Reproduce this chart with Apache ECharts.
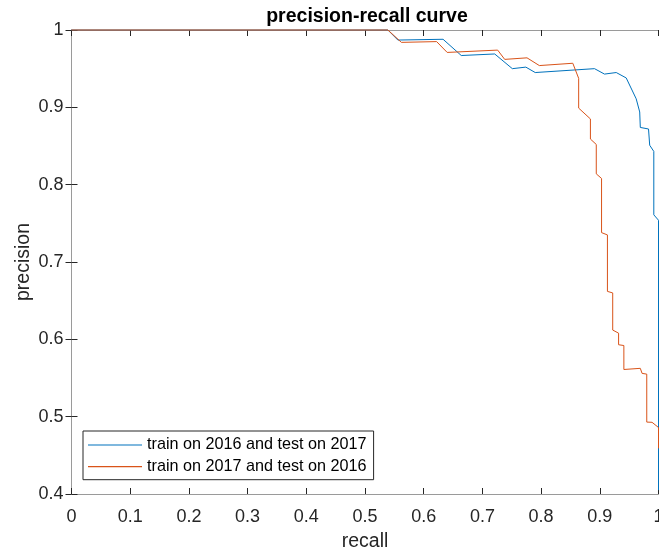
<!DOCTYPE html>
<html>
<head>
<meta charset="utf-8">
<script src="https://cdn.jsdelivr.net/npm/echarts@6/dist/echarts.min.js"></script>
<style>
html,body{margin:0;padding:0;background:#fff;}
#c{width:659px;height:554px;}
</style>
</head>
<body>
<div id="c"></div>
<script>
const titleText = 'precision-recall curve';
const xName = 'recall';
const yName = 'precision';
const seriesNames = ['train on 2016 and test on 2017', 'train on 2017 and test on 2016'];

const recall2016 = [0, 0.539, 0.556, 0.633, 0.664, 0.721, 0.751, 0.774, 0.790, 0.891, 0.908, 0.928, 0.945, 0.962, 0.968, 0.969, 0.983, 0.985, 0.992, 0.992, 1.0, 1.0];
const precision2016 = [1, 1, 0.987, 0.988, 0.967, 0.969, 0.950, 0.952, 0.945, 0.950, 0.943, 0.945, 0.938, 0.911, 0.894, 0.874, 0.872, 0.851, 0.843, 0.761, 0.754, 0.405];

const recall2017 = [0, 0.539, 0.562, 0.622, 0.640, 0.726, 0.738, 0.776, 0.797, 0.854, 0.864, 0.864, 0.884, 0.884, 0.894, 0.894, 0.903, 0.903, 0.913, 0.913, 0.922, 0.922, 0.932, 0.932, 0.941, 0.941, 0.969, 0.972, 0.980, 0.980, 0.989, 1.0, 1.0];
const precision2017 = [1, 1, 0.984, 0.985, 0.971, 0.974, 0.962, 0.964, 0.954, 0.957, 0.9375, 0.899, 0.885, 0.859, 0.852, 0.814, 0.808, 0.738, 0.735, 0.662, 0.660, 0.612, 0.608, 0.593, 0.592, 0.561, 0.5625, 0.556, 0.555, 0.493, 0.4927, 0.486, 0.459];

const xMin = 0, xMax = 1, xStep = 0.1;
const yMin = 0.4, yMax = 1, yStep = 0.1;

function zip(a, b) { return a.map((v, i) => [v, b[i]]); }
function fmt(v) { return String(Math.round(v * 10) / 10); }

const axisColor = '#262626';
const lineGray = '#9a9a9a';
const fontFam = '"Liberation Sans", Arial, Helvetica, sans-serif';

const chart = echarts.init(document.getElementById('c'), null, {renderer: 'canvas'});
const baseX = {
  type: 'value', min: xMin, max: xMax, interval: xStep,
  axisLine: {show: true, lineStyle: {color: lineGray, width: 1}},
  axisTick: {show: true, inside: true, length: 6, lineStyle: {color: axisColor}},
  splitLine: {show: false}
};
const baseY = {
  type: 'value', min: yMin, max: yMax, interval: yStep,
  axisLine: {show: true, lineStyle: {color: lineGray, width: 1}},
  axisTick: {show: true, inside: true, length: 6, lineStyle: {color: axisColor}},
  splitLine: {show: false}
};
chart.setOption({
  animation: false,
  backgroundColor: '#ffffff',
  title: {
    text: titleText, left: 362, top: 2, textAlign: 'center',
    textStyle: {fontFamily: fontFam, fontSize: 19.5, fontWeight: 'bold', color: '#000'}
  },
  grid: {left: 71.5, right: 0.5, top: 30, bottom: 60, containLabel: false, outerBoundsMode: 'none'},
  legend: {
    orient: 'vertical', left: 83, top: 431,
    padding: [5, 7, 4, 5], itemGap: 3.7, itemWidth: 54, itemHeight: 1.2,
    icon: 'rect',
    borderColor: '#262626', borderWidth: 1, backgroundColor: '#fff',
    textStyle: {fontFamily: fontFam, fontSize: 16.2, lineHeight: 18, color: '#000'},
    data: seriesNames
  },
  xAxis: [
    Object.assign({}, baseX, {
      position: 'bottom', name: xName, nameLocation: 'middle', nameGap: 38, nameMoveOverlap: false,
      nameTextStyle: {fontFamily: fontFam, fontSize: 19.5, color: axisColor},
      axisLabel: {fontFamily: fontFam, fontSize: 18, color: axisColor, margin: 14, formatter: fmt}
    }),
    Object.assign({}, baseX, {position: 'top', axisLabel: {show: false}})
  ],
  yAxis: [
    Object.assign({}, baseY, {
      position: 'left', name: yName, nameLocation: 'middle', nameGap: 38, nameMoveOverlap: false,
      nameTextStyle: {fontFamily: fontFam, fontSize: 19.5, color: axisColor},
      axisLabel: {fontFamily: fontFam, fontSize: 18, color: axisColor, margin: 8, formatter: fmt}
    }),
    Object.assign({}, baseY, {position: 'right', axisLabel: {show: false}})
  ],
  series: [
    {
      name: seriesNames[0], type: 'line', data: zip(recall2016, precision2016),
      symbol: 'none', color: '#0072BD', lineStyle: {width: 1, color: '#0072BD'}, clip: false
    },
    {
      name: seriesNames[1], type: 'line', data: zip(recall2017, precision2017),
      symbol: 'none', color: '#D95319', lineStyle: {width: 1, color: '#D95319'}, clip: false
    }
  ]
});
</script>
</body>
</html>
